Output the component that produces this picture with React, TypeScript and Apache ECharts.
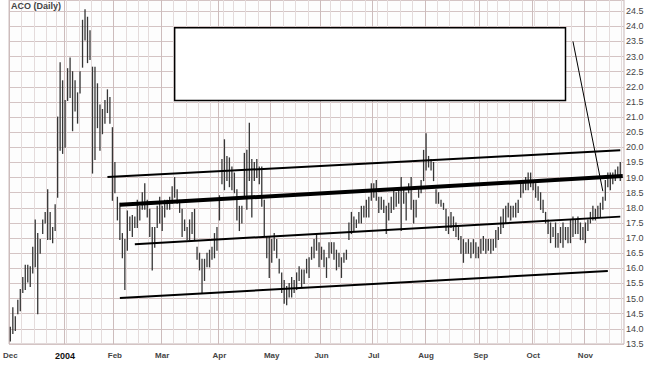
import React, { useEffect, useRef } from 'react';
import * as echarts from 'echarts';

// Daily high / low of ACO, one value per trading day from 1 Dec 2003
const LOWS = [
  13.6, 13.85, 13.95, 14.5, 14.6, 15.2, 15.3, 15.55, 15.4, 15.85,
  16.05, 14.5, 16.5, 17.15, 17.5, 16.95, 16.95, 16.85, 17.25, 18.35,
  19.9, 19.8, 20.0, 21.55, 21.65, 20.55, 21.2, 20.8, 21.8, 22.65,
  23.55, 22.8, 22.9, 19.15, 19.6, 20.65, 19.9, 20.45, 20.8, 21.15,
  20.8, 18.25, 18.5, 17.6, 16.95, 16.35, 15.3, 16.6, 17.25, 17.05,
  17.35, 17.35, 17.6, 17.95, 17.95, 17.7, 17.05, 15.95, 16.7, 17.35,
  17.5, 17.25, 17.7, 17.95, 17.95, 18.15, 18.35, 18.15, 17.85, 17.05,
  17.25, 16.95, 16.95, 17.15, 16.95, 16.3, 15.95, 15.2, 15.6, 16.05,
  16.05, 16.3, 16.35, 16.6, 17.6,
  18.8, 18.6, 18.9, 18.7, 18.6, 18.5, 17.6, 17.25, 17.5, 18.35,
  17.95, 18.9, 17.7, 18.9, 19.0, 18.8, 18.05, 17.05, 16.35, 15.7,
  16.2, 16.6, 16.35, 15.85, 15.2, 14.85, 14.8, 15.05, 15.05, 15.2,
  15.3, 15.6, 15.4, 15.5, 15.85, 15.7, 16.3, 16.35, 16.6, 16.05,
  16.3, 16.05, 15.7, 16.35, 16.5, 16.3, 15.95, 16.05, 15.7, 16.2,
  16.3, 16.95, 17.15, 17.25, 17.35, 17.5, 17.5, 17.7, 17.7, 17.7,
  18.25, 18.35, 18.25, 17.85, 17.95, 17.85, 17.15, 17.6, 17.85, 17.95,
  18.05, 18.15, 17.25, 18.15, 17.6, 18.5, 17.95, 17.5, 17.7, 18.35,
  18.5, 18.9, 19.25, 19.35, 19.25, 18.9, 18.15, 18.15, 18.05, 17.95,
  17.25, 17.15, 17.35, 17.25, 17.05, 16.95, 16.5, 16.2, 16.5, 16.5,
  16.35, 16.5, 16.35, 16.35, 16.5, 16.6, 16.5, 16.6, 16.5, 16.6,
  16.7, 16.95, 17.15, 17.35, 17.5, 17.7, 17.6, 17.7, 17.7, 17.85,
  18.35, 18.5, 18.6, 18.6, 18.7, 18.6, 18.35, 18.25, 17.95, 17.85,
  17.5, 17.15, 16.85, 17.05, 16.7, 16.7, 16.85, 16.7, 16.95, 16.85,
  16.85, 17.05, 17.15, 17.15, 16.95, 16.95, 16.85, 17.25, 17.5, 17.6,
  17.6, 17.7, 17.7, 17.95, 18.25, 18.7, 18.6, 18.8, 18.9, 19.0,
  18.9,
];

const HIGHS = [
  14.05, 14.7, 14.4, 14.95, 15.3, 15.7, 16.1, 16.1, 16.05, 16.7,
  17.6, 17.15, 16.95, 17.6, 17.85, 18.6, 17.85, 17.35, 18.1, 21.0,
  22.8, 22.2, 21.55, 22.6, 22.95, 22.5, 22.2, 21.8, 22.5, 24.2,
  24.55, 24.3, 23.85, 22.65, 22.65, 22.1, 21.4, 21.25, 21.55, 21.9,
  21.65, 20.65, 19.5, 18.35, 18.15, 17.15, 16.95, 17.9, 17.7, 17.75,
  17.7, 18.25, 18.05, 18.5, 18.8, 18.25, 17.95, 17.35, 17.35, 18.05,
  18.35, 18.05, 18.25, 18.25, 18.35, 18.7, 19.0, 18.6, 18.25, 17.95,
  17.6, 17.35, 17.6, 17.85, 17.95, 16.7, 16.5, 16.3, 16.3, 16.5,
  16.6, 16.7, 17.15, 17.35, 18.4,
  19.6, 20.25, 19.7, 19.65, 19.35, 19.15, 18.6, 18.05, 18.05, 19.8,
  19.9, 20.8, 19.6, 19.5, 19.6, 19.35, 19.35, 18.25, 17.05, 17.05,
  16.95, 17.15, 16.95, 16.3, 15.85, 15.6, 15.4, 15.5, 15.7, 15.6,
  15.85, 16.05, 15.95, 15.95, 16.3, 16.35, 16.7, 16.95, 17.15, 16.85,
  16.7, 16.6, 16.35, 16.85, 16.85, 16.85, 16.6, 16.5, 16.35, 16.5,
  16.6, 17.5, 17.85, 17.7, 17.6, 17.85, 18.05, 18.05, 18.25, 18.35,
  18.8, 18.8, 18.9, 18.35, 18.35, 18.25, 18.05, 18.15, 18.35, 18.6,
  18.5, 18.6, 19.0, 18.6, 18.5, 18.8, 19.0, 18.25, 18.25, 18.6,
  18.9, 19.9, 20.45, 19.7, 19.6, 19.5, 18.6, 18.5, 18.25, 18.15,
  17.95, 17.7, 17.85, 17.7, 17.5, 17.35, 17.05, 16.95, 16.85, 16.95,
  16.85, 16.95, 16.85, 16.7, 16.95, 17.05, 16.95, 16.95, 16.95, 16.95,
  17.25, 17.35, 17.7, 17.95, 18.05, 18.15, 18.05, 18.05, 18.15, 18.25,
  18.9, 18.9, 19.0, 19.15, 19.15, 18.9, 18.8, 18.7, 18.5, 18.25,
  17.85, 17.6, 17.5, 17.35, 17.5, 17.15, 17.35, 17.5, 17.35, 17.35,
  17.6, 17.7, 17.6, 17.7, 17.5, 17.35, 17.5, 17.6, 17.85, 18.05,
  17.95, 18.05, 18.15, 18.35, 18.9, 19.15, 19.15, 19.15, 19.25, 19.35,
  19.5,
];

// Trend lines: [trading-day index, price]
const TREND_UPPER = [[39, 19.02], [245, 19.9]];
const TREND_MAIN = [[44, 18.1], [246, 19.05]];
const TREND_MID = [[50, 16.8], [245, 17.71]];
const TREND_LOW = [[44, 15.02], [240, 15.91]];
const POINTER = [[226, 23.5], [238, 18.55]];
const NOTE_BOX = [[66, 23.95], [223, 21.55]];

const TITLE = 'ACO (Daily)';
const MONTH_NAMES = ['Jan', 'Feb', 'Mar', 'Apr', 'May', 'Jun', 'Jul', 'Aug', 'Sep', 'Oct', 'Nov', 'Dec'];
const HOLIDAYS = [
  '2003-12-25', '2004-01-01', '2004-01-19', '2004-02-16', '2004-04-09',
  '2004-05-31', '2004-06-11', '2004-07-05', '2004-09-06', '2004-11-25',
];
const START_DATE = '2003-12-01';
const N_DAYS = 247;

function tradingDays(): string[] {
  const out: string[] = [];
  const d = new Date(START_DATE + 'T00:00:00Z');
  while (out.length < N_DAYS) {
    const dow = d.getUTCDay();
    const s = d.toISOString().slice(0, 10);
    if (dow !== 0 && dow !== 6 && !HOLIDAYS.includes(s)) out.push(s);
    d.setUTCDate(d.getUTCDate() + 1);
  }
  return out;
}

export default function App() {
  const ref = useRef<HTMLDivElement>(null);
  useEffect(() => {
    if (!ref.current) return;
    const chart = echarts.init(ref.current, undefined, { renderer: 'svg' });
    const dates = tradingDays();
    const monthStart = new Set<number>();
    const weekStart = new Set<number>();
    dates.forEach((s, i) => {
      const d = new Date(s + 'T00:00:00Z');
      if (i === 0 || s.slice(5, 7) !== dates[i - 1].slice(5, 7)) monthStart.add(i);
      if (i === 0 || d.getUTCDay() < new Date(dates[i - 1] + 'T00:00:00Z').getUTCDay()) weekStart.add(i);
    });
    const bars = LOWS.map((l, i) => [i, l, HIGHS[i]]);
    const font = '"Liberation Sans", Arial, sans-serif';
    const trend = (data: number[][], width: number, extra: any = {}) => ({
      type: 'line',
      data,
      symbol: 'none',
      z: 5,
      silent: true,
      lineStyle: { color: '#000', width },
      ...extra,
    });
    chart.setOption({
      animation: false,
      backgroundColor: '#ffffff',
      title: {
        text: TITLE,
        left: 11,
        top: 1,
        padding: 0,
        textStyle: { fontSize: 9, fontWeight: 'bold', color: '#444', fontFamily: font },
      },
      grid: {
        left: 9, right: 25, top: 0, bottom: 23,
        show: true, borderColor: '#c4b4b4', borderWidth: 1, backgroundColor: '#fdfdfd',
      },
      xAxis: [
        {
          type: 'category',
          data: dates,
          boundaryGap: true,
          axisLine: { show: false },
          axisTick: { show: false },
          axisLabel: {
            interval: (i: number) => monthStart.has(i),
            margin: 7,
            fontFamily: font,
            formatter: (v: string) => {
              const m = +v.slice(5, 7);
              return m === 1 ? '{y|' + v.slice(0, 4) + '}' : '{m|' + MONTH_NAMES[m - 1] + '}';
            },
            rich: {
              y: { fontSize: 9, fontWeight: 'bold', color: '#111', fontFamily: font },
              m: { fontSize: 8, fontWeight: 'bold', color: '#444', fontFamily: font },
            },
          },
          splitLine: {
            show: true,
            interval: (i: number) => monthStart.has(i),
            lineStyle: { color: '#cdbcbc', width: 1 },
          },
        },
        {
          type: 'category',
          data: dates,
          boundaryGap: true,
          position: 'bottom',
          axisLine: { show: false },
          axisTick: { show: false },
          axisLabel: { show: false },
          splitLine: {
            show: true,
            interval: (i: number) => weekStart.has(i) && !monthStart.has(i),
            lineStyle: { color: '#e4dbdb', width: 1 },
          },
        },
      ],
      yAxis: {
        type: 'value',
        position: 'right',
        min: 13.5,
        max: 24.87,
        interval: 0.5,
        axisLine: { show: false },
        axisTick: { show: false },
        axisLabel: {
          margin: 2,
          fontSize: 9,
          color: '#444',
          fontFamily: font,
          formatter: (v: number) => (Math.abs(v * 2 - Math.round(v * 2)) < 1e-6 ? v.toFixed(1) : ''),
        },
        splitLine: { show: true, lineStyle: { color: '#d4c4c4', width: 1 } },
      },
      series: [
        {
          type: 'custom',
          xAxisIndex: 0,
          yAxisIndex: 0,
          z: 3,
          silent: true,
          encode: { x: 0, y: [1, 2] },
          data: bars,
          renderItem: (params: any, api: any) => {
            const i = api.value(0);
            const lo = api.coord([i, api.value(1)]);
            const hi = api.coord([i, api.value(2)]);
            return {
              type: 'line',
              shape: { x1: lo[0], y1: lo[1] + 0.5, x2: hi[0], y2: hi[1] - 0.5 },
              style: { stroke: '#363636', lineWidth: 1.3 },
            };
          },
        },
        trend(TREND_UPPER, 2),
        trend(TREND_MAIN, 4),
        trend(TREND_MID, 2),
        trend(TREND_LOW, 2),
        trend(POINTER, 1, {
          markArea: {
            silent: true,
            label: { show: false },
            itemStyle: { color: '#ffffff', borderColor: '#000', borderWidth: 1.5 },
            data: [[{ coord: NOTE_BOX[0] }, { coord: NOTE_BOX[1] }]],
          },
        }),
      ],
    });
    return () => chart.dispose();
  }, []);
  return (
    <div
      ref={ref}
      style={{ position: 'fixed', left: 0, top: 0, width: 649, height: 367, background: '#fff' }}
    />
  );
}
